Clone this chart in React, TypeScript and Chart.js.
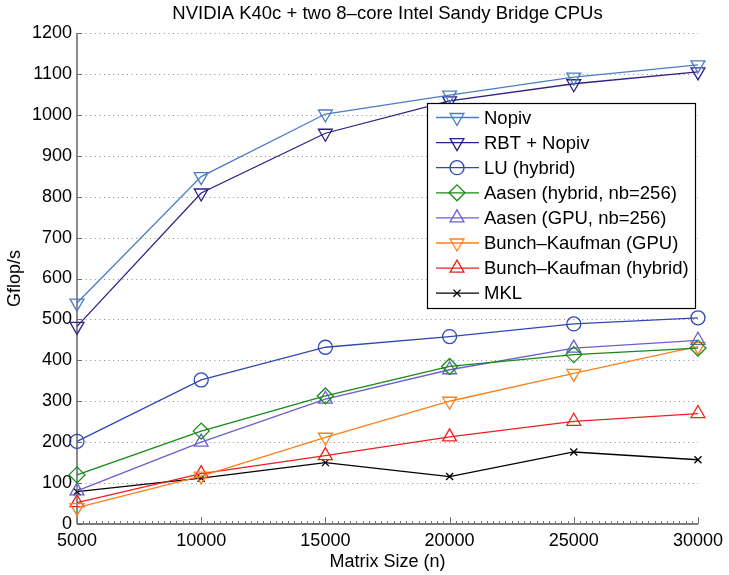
import React, { useEffect, useRef } from "react";
import { Chart, registerables } from "chart.js";
import { drawPoint } from "chart.js/helpers";

Chart.register(...registerables);

const TITLE = "NVIDIA K40c + two 8\u2013core Intel Sandy Bridge CPUs";
const X_TITLE = "Matrix Size (n)";
const Y_TITLE = "Gflop/s";

const sizes = [5000, 10000, 15000, 20000, 25000, 30000];
const xTicks = [5000, 10000, 15000, 20000, 25000, 30000];
const yTicks = [0, 100, 200, 300, 400, 500, 600, 700, 800, 900, 1000, 1100, 1200];

const nopiv = [540, 849, 1002, 1048, 1092, 1122];
const rbtNopiv = [483, 809, 955, 1034, 1076, 1105];
const luHybrid = [202, 352, 432, 458, 489, 504];
const aasenHybrid = [120, 227, 313, 385, 414, 430];
const aasenGpu = [81, 200, 305, 377, 430, 449];
const bkGpu = [40, 117, 212, 300, 368, 434];
const bkHybrid = [52, 123, 167, 213, 251, 270];
const mkl = [79, 112, 150, 116, 176, 157];

const FONT = "'Liberation Sans', Arial, Helvetica, sans-serif";

type S = {
  label: string;
  values: number[];
  color: string;
  style: string;
  rotation: number;
  radius: number;
};

const series: S[] = [
  { label: "Nopiv", values: nopiv, color: "#4a7cc4", style: "triangle", rotation: 180, radius: 8 },
  { label: "RBT + Nopiv", values: rbtNopiv, color: "#2b2185", style: "triangle", rotation: 180, radius: 8 },
  { label: "LU (hybrid)", values: luHybrid, color: "#2f48b4", style: "circle", rotation: 0, radius: 7 },
  { label: "Aasen (hybrid, nb=256)", values: aasenHybrid, color: "#178a17", style: "rectRot", rotation: 0, radius: 8 },
  { label: "Aasen (GPU, nb=256)", values: aasenGpu, color: "#6b5fcf", style: "triangle", rotation: 0, radius: 8 },
  { label: "Bunch\u2013Kaufman (GPU)", values: bkGpu, color: "#ff7f1e", style: "triangle", rotation: 180, radius: 8 },
  { label: "Bunch\u2013Kaufman (hybrid)", values: bkHybrid, color: "#ec2020", style: "triangle", rotation: 0, radius: 8 },
  { label: "MKL", values: mkl, color: "#000000", style: "crossRot", rotation: 0, radius: 5 },
];

function drawDecorBelow(chart: any) {
  const { ctx, chartArea, scales } = chart;
  const x = scales.x;
  const y = scales.y;
  ctx.save();
  ctx.strokeStyle = "#8a8a8a";
  ctx.lineWidth = 1;
  ctx.setLineDash([1, 3.6]);
  for (const v of yTicks) {
    if (v === 0) continue;
    const py = Math.round(y.getPixelForValue(v)) + 0.5;
    ctx.beginPath();
    ctx.moveTo(chartArea.left + 4, py);
    ctx.lineTo(chartArea.right, py);
    ctx.stroke();
  }
  ctx.setLineDash([]);
  ctx.strokeStyle = "#6e6e6e";
  ctx.lineWidth = 1.6;
  ctx.beginPath();
  ctx.moveTo(chartArea.left, chartArea.top);
  ctx.lineTo(chartArea.left, chartArea.bottom);
  ctx.stroke();
  ctx.lineWidth = 1;
  for (const v of yTicks) {
    const py = Math.round(y.getPixelForValue(v)) + 0.5;
    ctx.beginPath();
    ctx.moveTo(chartArea.left, py);
    ctx.lineTo(chartArea.left + 5, py);
    ctx.stroke();
  }
  ctx.strokeStyle = "#555555";
  ctx.lineWidth = 1.6;
  const by = chartArea.bottom;
  ctx.beginPath();
  ctx.moveTo(chartArea.left, by);
  ctx.lineTo(chartArea.right, by);
  ctx.stroke();
  ctx.lineWidth = 1;
  ctx.strokeStyle = "#777777";
  for (let v = xTicks[0]; v <= xTicks[xTicks.length - 1]; v += 250) {
    const px = Math.round(x.getPixelForValue(v)) + 0.5;
    const major = v % 5000 === 0;
    ctx.beginPath();
    ctx.moveTo(px, by);
    ctx.lineTo(px, by - (major ? 7 : 3));
    ctx.stroke();
  }
  ctx.restore();
}

function drawDecorAbove(chart: any) {
  const { ctx, chartArea } = chart;
  ctx.save();
  ctx.fillStyle = "#000";
  ctx.font = `18.5px ${FONT}`;
  ctx.textAlign = "center";
  ctx.textBaseline = "middle";
  const cx = (chartArea.left + chartArea.right) / 2;
  ctx.fillText(TITLE, cx, 14);
  ctx.font = `18px ${FONT}`;
  ctx.fillText(X_TITLE, cx, 562);
  ctx.save();
  ctx.translate(15, (chartArea.top + chartArea.bottom) / 2);
  ctx.rotate(-Math.PI / 2);
  ctx.fillText(Y_TITLE, 0, 0);
  ctx.restore();

  const bx = 427, bY = 103, bw = 268, bh = 205;
  ctx.fillStyle = "#ffffff";
  ctx.fillRect(bx, bY, bw, bh);
  ctx.strokeStyle = "#000";
  ctx.lineWidth = 1.2;
  ctx.strokeRect(bx + 0.5, bY + 0.5, bw, bh);
  ctx.font = `18.5px ${FONT}`;
  ctx.textAlign = "left";
  ctx.textBaseline = "middle";
  series.forEach((s, i) => {
    const ly = 117.5 + i * 25.1;
    ctx.strokeStyle = s.color;
    ctx.lineWidth = 1.3;
    ctx.beginPath();
    ctx.moveTo(436, ly);
    ctx.lineTo(479, ly);
    ctx.stroke();
    ctx.fillStyle = "rgba(0,0,0,0)";
    ctx.strokeStyle = s.color;
    ctx.lineWidth = 1.3;
    drawPoint(
      ctx,
      {
        pointStyle: s.style,
        rotation: s.rotation,
        radius: s.radius,
        borderWidth: 1.3,
      } as any,
      457,
      ly
    );
    ctx.fillStyle = "#000";
    ctx.fillText(s.label, 484, ly + 1);
  });
  ctx.restore();
}

export default function App() {
  const ref = useRef<HTMLCanvasElement | null>(null);
  useEffect(() => {
    if (!ref.current) return;
    const chart = new Chart(ref.current, {
      type: "line",
      data: {
        datasets: series.map((s) => ({
          label: s.label,
          data: sizes.map((n, i) => ({ x: n, y: s.values[i] })),
          borderColor: s.color,
          backgroundColor: "rgba(0,0,0,0)",
          borderWidth: 1.3,
          pointStyle: s.style as any,
          rotation: s.rotation,
          pointRadius: s.radius,
          pointBorderColor: s.color,
          pointBackgroundColor: "rgba(0,0,0,0)",
          pointBorderWidth: 1.3,
          fill: false,
          tension: 0,
          clip: false,
        })),
      },
      options: {
        responsive: false,
        animation: false,
        devicePixelRatio: 1,
        layout: { padding: { top: 33, right: 28, left: 0, bottom: 0 } },
        plugins: {
          legend: { display: false },
          title: { display: false },
          tooltip: { enabled: false },
        },
        scales: {
          x: {
            type: "linear",
            min: xTicks[0],
            max: xTicks[xTicks.length - 1],
            afterBuildTicks: (scale: any) => {
              scale.ticks = xTicks.map((v) => ({ value: v }));
            },
            afterFit: (scale: any) => {
              scale.height = 51;
            },
            grid: { display: false, drawTicks: false },
            border: { display: false },
            ticks: {
              padding: 6,
              maxRotation: 0,
              color: "#000",
              font: { family: FONT, size: 18 },
              callback: (v: any) => String(v),
            },
          },
          y: {
            type: "linear",
            min: yTicks[0],
            max: yTicks[yTicks.length - 1],
            afterBuildTicks: (scale: any) => {
              scale.ticks = yTicks.map((v) => ({ value: v }));
            },
            afterFit: (scale: any) => {
              scale.width = 77;
            },
            grid: { display: false, drawTicks: false },
            border: { display: false },
            ticks: {
              padding: 5,
              color: "#000",
              font: { family: FONT, size: 18 },
              callback: (v: any) => String(v),
            },
          },
        },
      },
      plugins: [
        {
          id: "decor",
          beforeDatasetsDraw: (c: any) => drawDecorBelow(c),
          afterDraw: (c: any) => drawDecorAbove(c),
        },
      ],
    } as any);
    return () => chart.destroy();
  }, []);
  return (
    <div style={{ position: "fixed", left: 0, top: 0, width: 729, height: 575, background: "#fff" }}>
      <canvas ref={ref} width={729} height={575} />
    </div>
  );
}
